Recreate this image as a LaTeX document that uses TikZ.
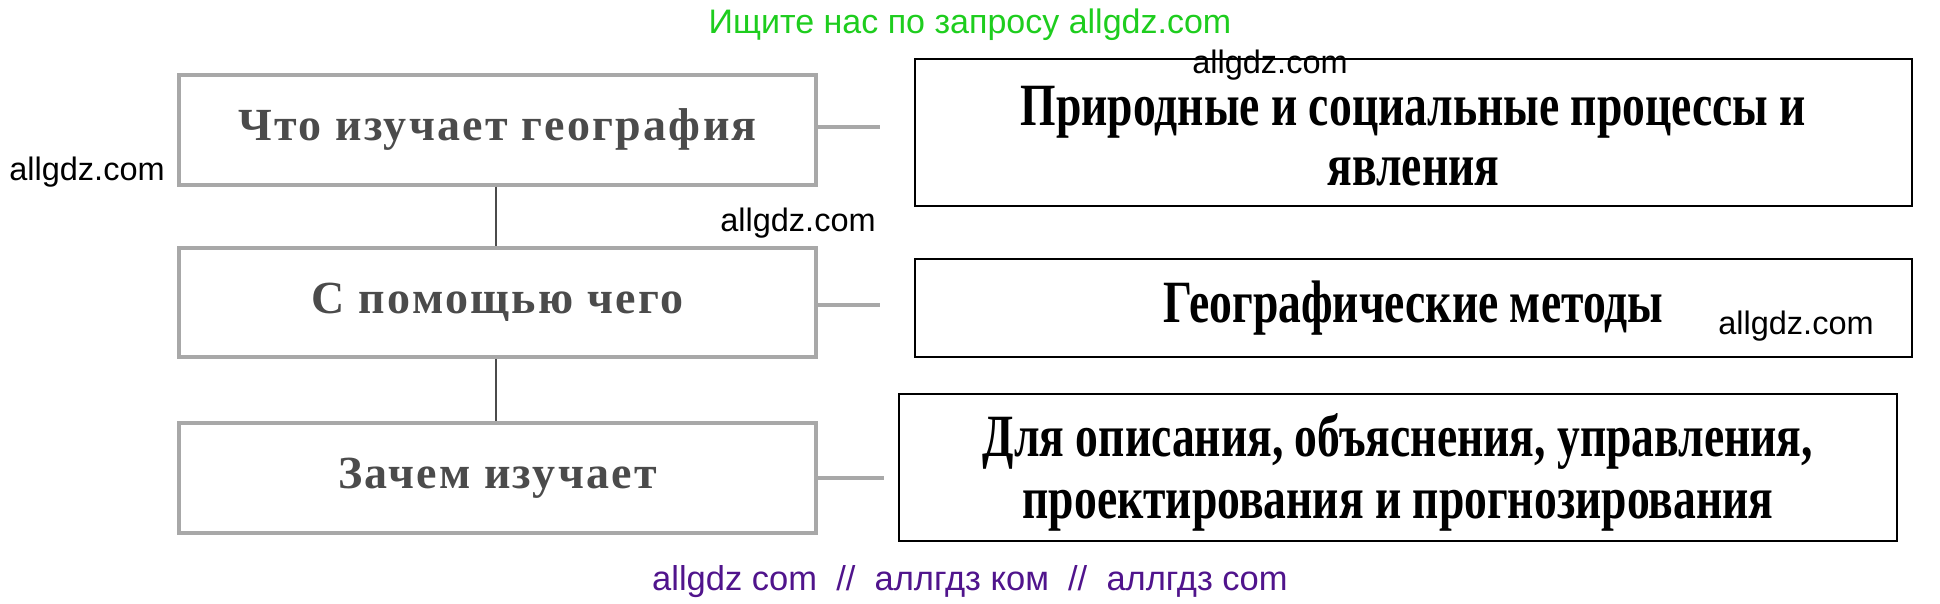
\documentclass[tikz,border=0pt]{standalone}
\usepackage{fontspec}
\setmainfont{Liberation Serif}
\newfontfamily\rfont[FakeStretch=0.76]{Liberation Serif}
\newfontfamily\lfont[LetterSpace=5]{Liberation Serif}
\newfontfamily\wfont{Liberation Sans}
\definecolor{wmgreen}{RGB}{30,205,30}
\definecolor{wmpurple}{RGB}{80,20,140}
\definecolor{scangray}{RGB}{168,168,168}
\definecolor{scantext}{RGB}{75,75,75}
\tikzset{
  leftbox/.style={draw=scangray, line width=3.5pt, rectangle, minimum width=637pt, inner sep=0pt,
    text=scantext, font={\lfont\bfseries\fontsize{46}{52}\selectfont}},
  rightbox/.style={draw=black, line width=2.5pt, rectangle, inner sep=0pt},
  righttext/.style={inner sep=0pt, align=center, font={\rfont\bfseries\fontsize{60}{60}\selectfont}},
  stub/.style={draw=scangray, line width=4pt},
  vline/.style={draw=scantext, line width=2pt},
  wmark/.style={font={\wfont\fontsize{32.5}{36}\selectfont}, inner sep=0pt}
}
\begin{document}
\begin{tikzpicture}[x=1pt,y=-1pt]
\useasboundingbox (0,0) rectangle (1940,604);
% left (scanned) boxes
\node[leftbox, minimum height=110pt] (L1) at (497.5,130) {Что\ изучает\ география};
\node[leftbox, minimum height=109pt] (L2) at (497.5,302.5) {С\ помощью\ чего};
\node[leftbox, minimum height=110pt] (L3) at (497.5,478) {Зачем\ изучает};
% vertical connectors
\draw[vline] (L1.south -| 496,0) -- (L2.north -| 496,0);
\draw[vline] (L2.south -| 496,0) -- (L3.north -| 496,0);
% stubs
\coordinate (S1) at (880,127);
\coordinate (S2) at (880,305);
\coordinate (S3) at (884,478);
\draw[stub] (L1.east |- S1) -- (S1);
\draw[stub] (L2.east |- S2) -- (S2);
\draw[stub] (L3.east |- S3) -- (S3);
% right boxes
\node[rightbox, minimum width=997pt, minimum height=147pt] (R1) at (1413.5,132.5) {};
\node[righttext] (R1t) at ([yshift=-4pt]R1.center) {Природные и социальные процессы и\\явления};
\node[rightbox, minimum width=997pt, minimum height=98pt] (R2) at (1413.5,308) {};
\node[righttext] (R2t) at (R2.center) {Географические методы};
\node[rightbox, minimum width=998pt, minimum height=147pt] (R3) at (1398,467.5) {};
\node[righttext, font={\rfont\bfseries\fontsize{60}{62}\selectfont}] (R3t) at ([yshift=-5pt]R3.center)
  {Для описания, объяснения, управления,\\проектирования и прогнозирования};
% watermarks
\node[wmark, text=wmgreen, font={\wfont\fontsize{34}{38}\selectfont}] (wm0) at (970,25) {Ищите нас по запросу allgdz.com};
\node[wmark] (wm1) at (1270,65) {allgdz.com};
\node[wmark] (wm2) at (87,172) {allgdz.com};
\node[wmark] (wm3) at (798,223) {allgdz.com};
\node[wmark] (wm4) at (1796,326) {allgdz.com};
\node[wmark, text=wmpurple, font={\wfont\fontsize{34.5}{38}\selectfont}] (wm5) at (970,582) {allgdz com\ \ //\ \ аллгдз ком\ \ //\ \ аллгдз com};
\end{tikzpicture}
\end{document}
